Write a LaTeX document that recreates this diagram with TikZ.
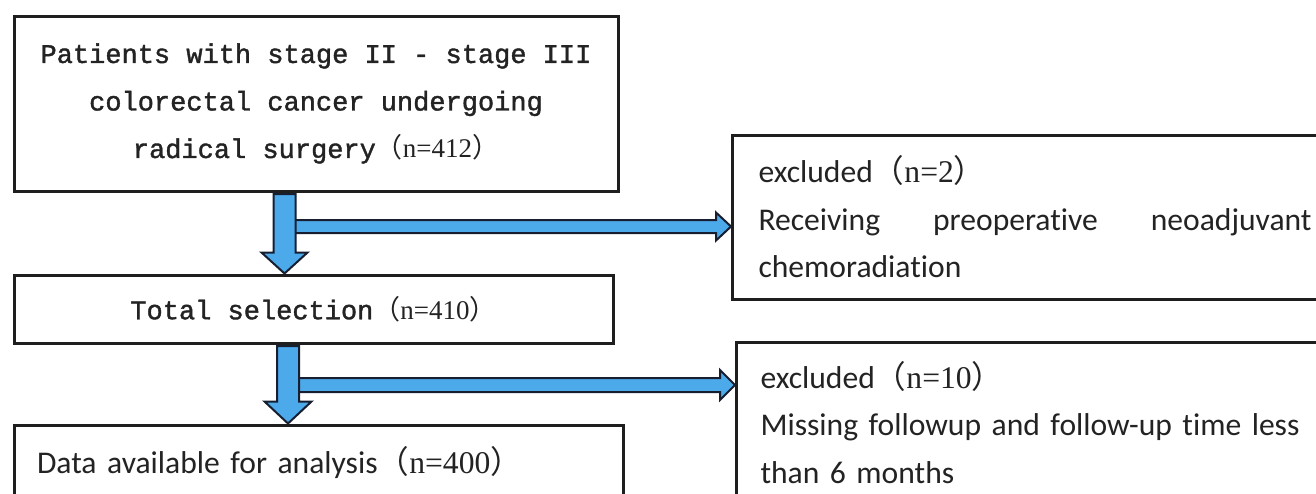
\documentclass[tikz,border=0pt]{standalone}
\usepackage{fontspec}
\setmainfont{Carlito}[Ligatures={NoCommon}]
\newfontfamily\monofont{Liberation Mono}[FakeBold=1.4]
\newfontfamily\tnrfont{Liberation Serif}
\newfontfamily\cjk{Noto Sans CJK SC}
\usetikzlibrary{calc, positioning}
\definecolor{arrowblue}{RGB}{76,170,235}
\definecolor{arrowline}{RGB}{22,30,48}
\definecolor{boxline}{RGB}{30,30,30}
\definecolor{inktext}{RGB}{35,35,35}
% count in brackets, as printed
\newcommand{\cnt}[1]{{\cjk （}{\tnrfont #1}{\cjk ）}}
\tikzset{
  flowbox/.style={draw=boxline, line width=1.5pt, fill=white, text=inktext, inner sep=0pt},
  monotext/.style={font=\monofont\fontsize{13.5}{23.75}\selectfont, align=center},
  sidetext/.style={font=\fontsize{15.8}{23.75}\selectfont, align=justify},
  blockarrow/.style={fill=arrowblue, draw=arrowline, line width=1pt, line join=miter}
}
\begin{document}
\begin{tikzpicture}[x=0.5pt, y=-0.5pt]
  \useasboundingbox (0,0) rectangle (1316,493);
  \clip (0,0) rectangle (1316,493);
  % main column
  \node[flowbox, monotext, minimum width=302pt, minimum height=87.5pt] (patients) at (316,103.5)
    {Patients with stage II - stage III\\ colorectal cancer undergoing\\ radical surgery\cnt{n=412}};
  \node[flowbox, monotext, minimum width=299.5pt, minimum height=34pt] (selection) at (313.5,309)
    {Total selection\cnt{n=410}};
  \node[flowbox, sidetext, align=left, text width=281.5pt, inner xsep=11.5pt, minimum height=38pt] (analysis) at (318.5,463)
    {Data available for analysis\cnt{n=400}};
  % exclusion boxes
  \node[flowbox, sidetext, text width=276.5pt, inner xsep=13pt, minimum height=82pt, anchor=west] (excl1) at (731,217)
    {excluded\cnt{n=2}\\ Receiving preoperative neoadjuvant\linebreak chemoradiation};
  \node[flowbox, sidetext, align=left, text width=280pt, inner xsep=12pt, minimum height=80pt, anchor=north west] (excl2) at (735,341)
    {excluded\cnt{n=10}\\ Missing followup and follow-up time less\\ than 6 months};
  % first split
  \coordinate (col1) at (284.5,0);
  \coordinate (row1) at (0,226.5);
  \path (patients.south -| col1) coordinate (d1s)
        (selection.north -| col1) coordinate (d1e)
        (col1 |- row1) coordinate (h1s)
        (excl1.west |- row1) coordinate (h1e);
  \filldraw[blockarrow] ($(h1s)+(0,-6.5)$) -- ($(h1e)+(-15,-6.5)$) -- ($(h1e)+(-15,-14)$) -- (h1e)
    -- ($(h1e)+(-15,14)$) -- ($(h1e)+(-15,6.5)$) -- ($(h1s)+(0,6.5)$) -- cycle;
  \filldraw[blockarrow] ($(d1s)+(-11,1.5)$) -- ($(d1e)+(-11,-21)$) -- ($(d1e)+(-23,-21)$) -- (d1e)
    -- ($(d1e)+(23,-21)$) -- ($(d1e)+(11,-21)$) -- ($(d1s)+(11,1.5)$) -- cycle;
  % second split
  \coordinate (col2) at (288,0);
  \coordinate (row2) at (0,385);
  \path (selection.south -| col2) coordinate (d2s)
        (analysis.north -| col2) coordinate (d2e)
        (col2 |- row2) coordinate (h2s)
        (excl2.west |- row2) coordinate (h2e);
  \filldraw[blockarrow] ($(h2s)+(0,-7)$) -- ($(h2e)+(-15,-7)$) -- ($(h2e)+(-15,-15)$) -- (h2e)
    -- ($(h2e)+(-15,15)$) -- ($(h2e)+(-15,7)$) -- ($(h2s)+(0,7)$) -- cycle;
  \filldraw[blockarrow] ($(d2s)+(-11,1.5)$) -- ($(d2e)+(-11,-22)$) -- ($(d2e)+(-23.5,-22)$) -- (d2e)
    -- ($(d2e)+(23.5,-22)$) -- ($(d2e)+(11,-22)$) -- ($(d2s)+(11,1.5)$) -- cycle;
\end{tikzpicture}
\end{document}
